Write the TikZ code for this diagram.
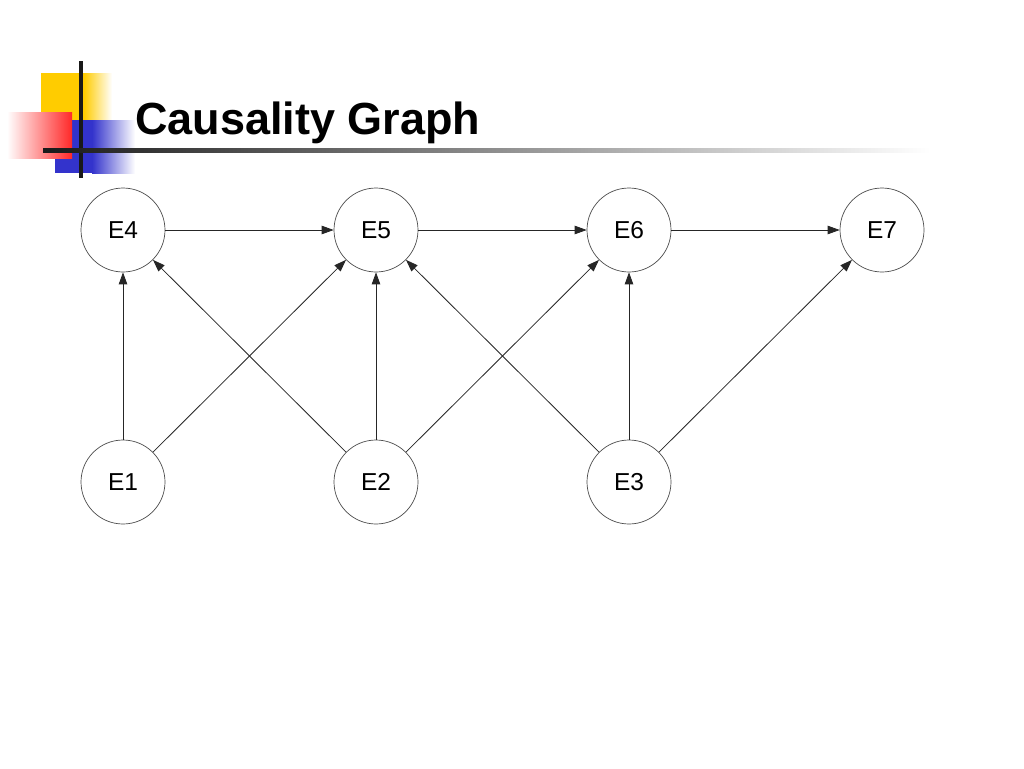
\documentclass[tikz,border=0pt]{standalone}
\usepackage{fontspec}
\setmainfont{Liberation Sans}
\usetikzlibrary{arrows.meta}
\definecolor{decoyellow}{RGB}{255,204,0}
\definecolor{decoblue}{RGB}{51,51,204}
\definecolor{decored}{RGB}{255,40,40}
\tikzset{
  ev/.style={circle, draw=black!70, line width=0.7pt, minimum size=84pt, inner sep=0pt, font=\fontsize{24.5}{28}\selectfont},
  edge/.style={draw=black!85, line width=0.8pt, -{Triangle[length=12pt,width=8.5pt]}, shorten >=0pt}
}
\begin{document}
\begin{tikzpicture}[x=1pt,y=-1pt]
\useasboundingbox (0,0) rectangle (1024,768);
\fill[white] (0,0) rectangle (1024,768);
% decoration
\fill[decoyellow] (41,73) rectangle (84,120);
\shade[left color=decoyellow, right color=white] (84,73) rectangle (112,120);
\fill[decoblue] (55,120) rectangle (92,173);
\shade[left color=decoblue, right color=white] (92,120) rectangle (135,173);
\shade[left color=white, right color=decored] (7,112) rectangle (72,158);
\fill[black!90] (79,61) rectangle (83,178);
\shade[left color=black!90, middle color=black!40, right color=white] (43,148) rectangle (930,152);
% title
\node[anchor=base west, inner sep=0pt, font=\fontsize{45}{50}\selectfont\bfseries] (title) at (135,134) {Causality Graph};
% nodes
\node[ev] (E4) at (123,230) {E4};
\node[ev] (E5) at (376,230) {E5};
\node[ev] (E6) at (629,230) {E6};
\node[ev] (E7) at (882,230) {E7};
\node[ev] (E1) at (123,482) {E1};
\node[ev] (E2) at (376,482) {E2};
\node[ev] (E3) at (629,482) {E3};
% edges
\draw[edge] (E4) -- (E5);
\draw[edge] (E5) -- (E6);
\draw[edge] (E6) -- (E7);
\draw[edge] (E1) -- (E4);
\draw[edge] (E1) -- (E5);
\draw[edge] (E2) -- (E4);
\draw[edge] (E2) -- (E5);
\draw[edge] (E2) -- (E6);
\draw[edge] (E3) -- (E5);
\draw[edge] (E3) -- (E6);
\draw[edge] (E3) -- (E7);
\end{tikzpicture}
\end{document}
